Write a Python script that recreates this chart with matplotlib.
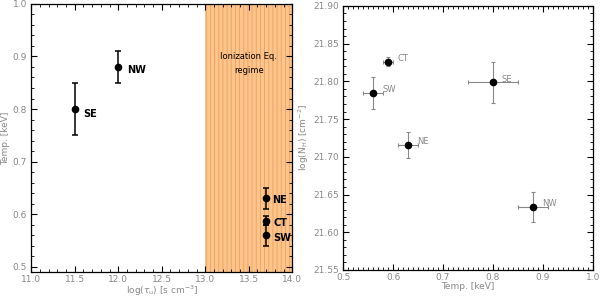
import numpy as np
import matplotlib.pyplot as plt
from matplotlib.ticker import MultipleLocator

# left panel: ionization timescale vs temperature
regions = ['SE', 'NW', 'NE', 'CT', 'SW']
log_tau = [11.5, 12.0, 13.7, 13.7, 13.7]
temp_l = [0.80, 0.88, 0.63, 0.588, 0.56]
temp_l_err = [0.05, 0.03, 0.02, 0.008, 0.02]

# right panel: temperature vs column density
regions_r = ['CT', 'SW', 'SE', 'NE', 'NW']
temp_r = [0.59, 0.56, 0.80, 0.63, 0.88]
temp_r_err = [0.01, 0.02, 0.05, 0.02, 0.03]
log_nh = [21.826, 21.785, 21.799, 21.716, 21.634]
log_nh_err = [0.006, 0.021, 0.027, 0.017, 0.020]

gray = '#888888'
plt.rcParams['font.family'] = 'DejaVu Sans'
plt.rcParams['hatch.linewidth'] = 0.6
fig = plt.figure(figsize=(6, 2.97), dpi=100)

ax1 = fig.add_axes([0.052, 0.084, 0.435, 0.903])
ax1.axvspan(13.0, 14.0, facecolor='#fdc58c', edgecolor='#eea060', hatch='||||', lw=0)
ax1.errorbar(log_tau, temp_l, yerr=temp_l_err, fmt='o', color='k', ms=4.5,
             capsize=2, elinewidth=1.1, capthick=1.1)
offs = {'SE': (0.1, -0.01), 'NW': (0.1, -0.005), 'NE': (0.07, -0.003),
        'CT': (0.08, -0.004), 'SW': (0.08, -0.005)}
for r, x, y in zip(regions, log_tau, temp_l):
    dx, dy = offs[r]
    ax1.text(x + dx, y + dy, r, fontsize=7, fontweight='bold', va='center')
ax1.text(13.5, 0.9, 'Ionization Eq.', fontsize=6, ha='center', va='center')
ax1.text(13.5, 0.873, 'regime', fontsize=6, ha='center', va='center')
ax1.set_xlim(11.0, 14.0)
ax1.set_ylim(0.49, 1.0)
ax1.xaxis.set_major_locator(MultipleLocator(0.5))
ax1.xaxis.set_minor_locator(MultipleLocator(0.1))
ax1.yaxis.set_major_locator(MultipleLocator(0.1))
ax1.yaxis.set_minor_locator(MultipleLocator(0.02))
ax1.set_xlabel(r'log($\tau_{\rm u}$) [s cm$^{-3}$]', fontsize=6.5, color=gray, labelpad=0)
ax1.set_ylabel('Temp. [keV]', fontsize=6.5, color=gray, labelpad=2)

ax2 = fig.add_axes([0.572, 0.091, 0.416, 0.889])
ax2.errorbar(temp_r, log_nh, xerr=temp_r_err, yerr=log_nh_err, fmt='o', color='k',
             ecolor=gray, ms=4.5, capsize=1.5, elinewidth=0.8, capthick=0.8)
for r, x, y in zip(regions_r, temp_r, log_nh):
    ax2.text(x + 0.018, y + 0.004, r, fontsize=6, color=gray, va='center')
ax2.set_xlim(0.5, 1.0)
ax2.set_ylim(21.55, 21.90)
ax2.xaxis.set_major_locator(MultipleLocator(0.1))
ax2.xaxis.set_minor_locator(MultipleLocator(0.01))
ax2.yaxis.set_major_locator(MultipleLocator(0.05))
ax2.yaxis.set_minor_locator(MultipleLocator(0.01))
ax2.yaxis.set_major_formatter(plt.FormatStrFormatter('%.2f'))
ax2.set_xlabel('Temp. [keV]', fontsize=6.5, color=gray, labelpad=0)
ax2.set_ylabel(r'log(N$_{\rm H}$) [cm$^{-2}$]', fontsize=6.5, color=gray, labelpad=2)

ax1.xaxis.set_major_formatter(plt.FormatStrFormatter('%.1f'))
ax1.yaxis.set_major_formatter(plt.FormatStrFormatter('%.1f'))
for ax in (ax1, ax2):
    ax.tick_params(which='both', direction='in', top=True, right=True,
                   labelsize=6.5, labelcolor=gray)
    ax.tick_params(axis='x', pad=2)
    ax.tick_params(axis='y', pad=3)
    ax.tick_params(which='major', length=4, width=0.8)
    ax.tick_params(which='minor', length=2, width=0.6)
    for s in ax.spines.values():
        s.set_linewidth(0.9)

fig.savefig('out.png', dpi=100)
